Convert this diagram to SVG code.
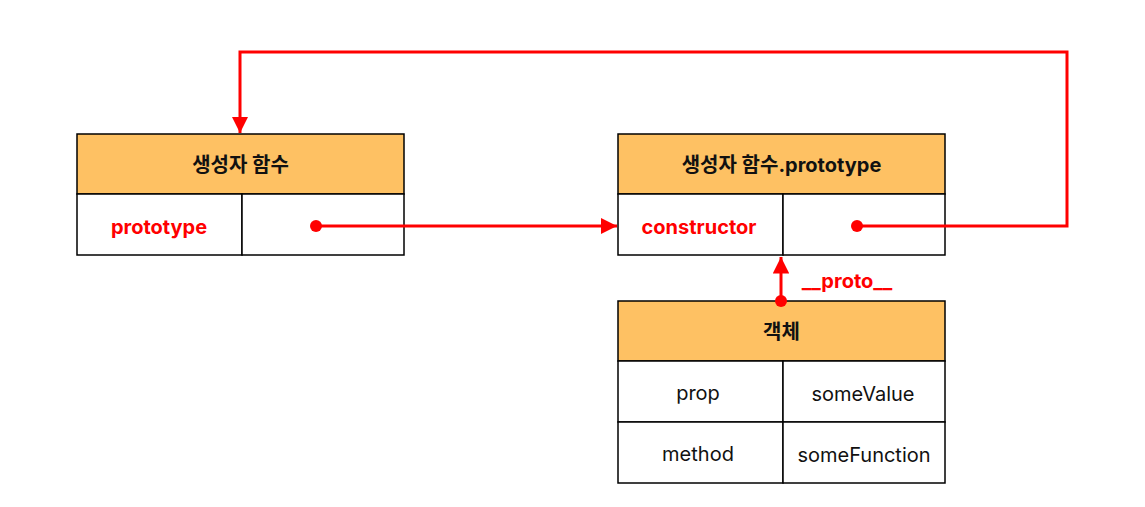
<svg xmlns="http://www.w3.org/2000/svg" width="1145" height="507" viewBox="0 0 1145 507">
<defs>
<style>
.hdr{fill:#FEC163;stroke:#000;stroke-width:1.5}
.cell{fill:#fff;stroke:#000;stroke-width:1.5}
.t{font-family:Inter,"Noto Sans CJK KR",sans-serif;font-size:20px;text-anchor:middle;dominant-baseline:central;fill:#111}
.b{font-weight:bold}
.r{fill:#FF0000;font-weight:bold}
.c{fill:none;stroke:#FF0000;stroke-width:3}
.dot{fill:#FF0000}
</style>
<marker id="ah" viewBox="0 0 10 10" refX="10" refY="5" markerWidth="5.5" markerHeight="5.5" orient="auto" markerUnits="strokeWidth">
<path d="M0,0 L10,5 L0,10 Z" fill="#FF0000"/>
</marker>
</defs>
<rect width="1145" height="507" fill="#fff"/>
<g id="ctor">
<rect class="hdr" x="77" y="134" width="327" height="60"/>
<text class="t b" x="240.5" y="165">생성자 함수</text>
<rect class="cell" x="77" y="194" width="165" height="61"/>
<rect class="cell" x="242" y="194" width="162" height="61"/>
<text class="t r" x="159" y="227">prototype</text>
</g>
<g id="proto">
<rect class="hdr" x="618" y="134" width="327" height="60"/>
<text class="t b" x="781.5" y="165">생성자 함수.prototype</text>
<rect class="cell" x="618" y="194" width="165" height="61"/>
<rect class="cell" x="783" y="194" width="162" height="61"/>
<text class="t r" x="699" y="227">constructor</text>
</g>
<g id="obj">
<rect class="hdr" x="618" y="301" width="327" height="60"/>
<text class="t b" x="781.5" y="332">객체</text>
<rect class="cell" x="618" y="361" width="165" height="61"/>
<rect class="cell" x="783" y="361" width="162" height="61"/>
<rect class="cell" x="618" y="422" width="165" height="61"/>
<rect class="cell" x="783" y="422" width="162" height="61"/>
<text class="t" x="698" y="393">prop</text>
<text class="t" x="863" y="394">someValue</text>
<text class="t" x="698" y="454">method</text>
<text class="t" x="864" y="455">someFunction</text>
</g>
<g id="connectors">
<path class="c" d="M316,226 H617" marker-end="url(#ah)"/>
<circle class="dot" cx="316" cy="226" r="6"/>
<path class="c" d="M856,226 H1067 V52 H240 V133" marker-end="url(#ah)"/>
<circle class="dot" cx="857" cy="226" r="6"/>
<path class="c" d="M781,301 V257" marker-end="url(#ah)"/>
<circle class="dot" cx="781" cy="301" r="6"/>
<text class="t r" x="847" y="281">__proto__</text>
</g>
</svg>
